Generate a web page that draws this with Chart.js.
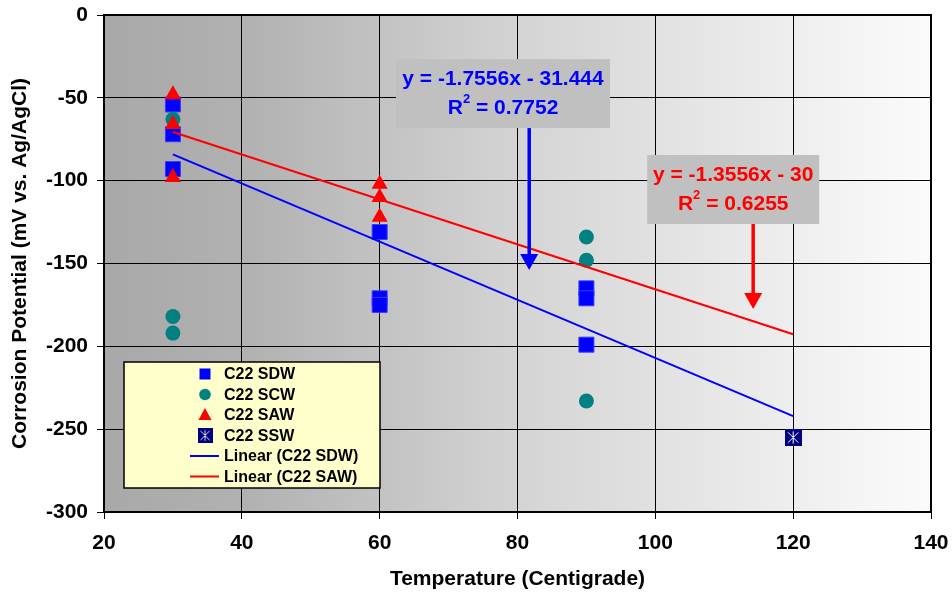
<!DOCTYPE html>
<html>
<head>
<meta charset="utf-8">
<script src="https://cdn.jsdelivr.net/npm/chart.js@4.4.1/dist/chart.umd.min.js"></script>
<style>
  html, body { margin: 0; padding: 0; background: #ffffff; }
  canvas { display: block; }
</style>
</head>
<body>
<canvas id="chart" width="952" height="594"></canvas>
<script>
// Corrosion potential of alloy C22 in four simulated waters
const sdwTemp = [30, 30, 30, 60, 60, 60, 90, 90, 90];
const sdwPot  = [-54, -72, -93, -131, -171, -175, -165, -171, -199];
const scwTemp = [30, 30, 30, 90, 90, 90];
const scwPot  = [-63, -182, -192, -134, -148, -233];
const sawTemp = [30, 30, 30, 60, 60, 60];
const sawPot  = [-48, -66, -98, -102, -110, -122];
const sswTemp = [120];
const sswPot  = [-255];

// Linear fits: [slope, intercept, R squared]
const sdwFit = [-1.7556, -31.444, 0.7752];
const sawFit = [-1.3556, -30, 0.6255];
const fitRange = [30, 120];

const xTicks = [20, 40, 60, 80, 100, 120, 140];
const yTicks = [0, -50, -100, -150, -200, -250, -300];

const FONT = '"Liberation Sans", Arial, Helvetica, sans-serif';

function pts(xs, ys) { return xs.map((x, i) => ({ x: x, y: ys[i] })); }
function fitLine(fit) { return fitRange.map(x => ({ x: x, y: fit[0] * x + fit[1] })); }
function eqText(fit) {
  const b = fit[1];
  return 'y = ' + fit[0] + 'x ' + (b < 0 ? '- ' : '+ ') + Math.abs(b);
}

// Marker for the SSW series: navy square with a white asterisk
function makeStarSquare(size) {
  const c = document.createElement('canvas');
  c.width = size; c.height = size;
  const g = c.getContext('2d');
  g.fillStyle = '#000080';
  g.fillRect(0, 0, size, size);
  g.strokeStyle = '#ffffff';
  g.lineWidth = 1;
  const m = size * 0.2, h = size / 2;
  g.beginPath();
  g.moveTo(m, m); g.lineTo(size - m, size - m);
  g.moveTo(size - m, m); g.lineTo(m, size - m);
  g.moveTo(h, m * 0.7); g.lineTo(h, size - m * 0.7);
  g.stroke();
  return c;
}
const starSquare = makeStarSquare(17);

// Plot-area gradient fill and border
const plotBackground = {
  id: 'plotBackground',
  beforeDraw(chart) {
    const { ctx, chartArea: a } = chart;
    const grad = ctx.createLinearGradient(a.left, 0, a.right, 0);
    grad.addColorStop(0, '#a8a8a8');
    grad.addColorStop(0.18, '#b2b2b2');
    grad.addColorStop(0.5, '#d4d4d4');
    grad.addColorStop(1, '#fbfbfb');
    ctx.save();
    ctx.fillStyle = grad;
    ctx.fillRect(a.left, a.top, a.right - a.left, a.bottom - a.top);
    ctx.restore();
  },
  beforeDatasetsDraw(chart) {
    const { ctx, chartArea: a } = chart;
    ctx.save();
    ctx.strokeStyle = '#000';
    ctx.lineWidth = 2;
    ctx.strokeRect(a.left, a.top, a.right - a.left, a.bottom - a.top);
    ctx.restore();
  }
};

function drawArrow(ctx, x, y0, y1, color) {
  const headH = 16, headW = 18;
  ctx.save();
  ctx.strokeStyle = color;
  ctx.fillStyle = color;
  ctx.lineWidth = 3.5;
  ctx.beginPath();
  ctx.moveTo(x, y0);
  ctx.lineTo(x, y1 - headH + 2);
  ctx.stroke();
  ctx.beginPath();
  ctx.moveTo(x - headW / 2, y1 - headH);
  ctx.lineTo(x + headW / 2, y1 - headH);
  ctx.lineTo(x, y1);
  ctx.closePath();
  ctx.fill();
  ctx.restore();
}

function drawFitLabel(ctx, cx, top, w, h, fit, color) {
  ctx.save();
  ctx.fillStyle = '#c0c0c0';
  ctx.fillRect(cx - w / 2, top, w, h);
  ctx.fillStyle = color;
  ctx.textBaseline = 'middle';
  ctx.textAlign = 'left';
  const big = 'bold 21px ' + FONT, small = 'bold 13px ' + FONT;
  ctx.font = big;
  const l1 = eqText(fit);
  const w1 = ctx.measureText(l1).width;
  ctx.fillText(l1, cx - w1 / 2, top + 20);
  const rTxt = 'R', rest = ' = ' + fit[2];
  const wr = ctx.measureText(rTxt).width, wrest = ctx.measureText(rest).width;
  ctx.font = small;
  const w2 = ctx.measureText('2').width;
  const total = wr + w2 + wrest;
  let x = cx - total / 2;
  const y2 = top + 49;
  ctx.font = big;
  ctx.fillText(rTxt, x, y2);
  ctx.font = small;
  ctx.fillText('2', x + wr, y2 - 9);
  ctx.font = big;
  ctx.fillText(rest, x + wr + w2, y2);
  ctx.restore();
}

// Fit equations with arrows pointing at the lines
const fitNotes = {
  id: 'fitNotes',
  afterDatasetsDraw(chart) {
    const { ctx } = chart;
    const xs = chart.scales.x, ys = chart.scales.y;
    // SDW note
    const bTop = ys.getPixelForValue(-26.6);
    drawFitLabel(ctx, xs.getPixelForValue(77.9), bTop, 214, 69, sdwFit, '#0000ff');
    drawArrow(ctx, xs.getPixelForValue(81.7), bTop + 69, ys.getPixelForValue(-153.9), '#0000ff');
    // SAW note
    const rTop = ys.getPixelForValue(-84.5);
    drawFitLabel(ctx, xs.getPixelForValue(111.3), rTop, 172, 69, sawFit, '#ff0000');
    drawArrow(ctx, xs.getPixelForValue(114.2), rTop + 69, ys.getPixelForValue(-177.4), '#ff0000');
  }
};

// Legend box inside the plot area
const boxLegend = {
  id: 'boxLegend',
  afterDatasetsDraw(chart) {
    const { ctx, chartArea: a } = chart;
    const left = a.left + 20, top = a.top + 347, w = 256, h = 126;
    ctx.save();
    ctx.fillStyle = '#ffffcc';
    ctx.fillRect(left, top, w, h);
    ctx.strokeStyle = '#000';
    ctx.lineWidth = 1.5;
    ctx.strokeRect(left, top, w, h);
    const mx = left + 81, tx = left + 100;
    const rows = [12, 32.5, 53, 73.5, 94, 114.5].map(d => top + d);
    const names = ['C22 SDW', 'C22 SCW', 'C22 SAW', 'C22 SSW', 'Linear (C22 SDW)', 'Linear (C22 SAW)'];
    // markers
    ctx.fillStyle = '#0000ff';
    ctx.fillRect(mx - 5.5, rows[0] - 5.5, 11, 11);
    ctx.fillStyle = '#008080';
    ctx.beginPath(); ctx.arc(mx, rows[1], 5.8, 0, Math.PI * 2); ctx.fill();
    ctx.fillStyle = '#ff0000';
    ctx.beginPath();
    ctx.moveTo(mx, rows[2] - 7); ctx.lineTo(mx + 6.5, rows[2] + 5); ctx.lineTo(mx - 6.5, rows[2] + 5);
    ctx.closePath(); ctx.fill();
    ctx.drawImage(starSquare, mx - 7.5, rows[3] - 7.5, 15, 15);
    ctx.lineWidth = 2;
    ctx.strokeStyle = '#0000ff';
    ctx.beginPath(); ctx.moveTo(mx - 15, rows[4]); ctx.lineTo(mx + 14, rows[4]); ctx.stroke();
    ctx.strokeStyle = '#ff0000';
    ctx.beginPath(); ctx.moveTo(mx - 15, rows[5]); ctx.lineTo(mx + 14, rows[5]); ctx.stroke();
    // labels
    ctx.fillStyle = '#000';
    ctx.font = 'bold 16px ' + FONT;
    ctx.textBaseline = 'middle';
    ctx.textAlign = 'left';
    names.forEach((n, i) => ctx.fillText(n, tx, rows[i] + 1));
    ctx.restore();
  }
};

const tickFont = { family: FONT, size: 21, weight: 'bold' };
const titleFont = { family: FONT, size: 21, weight: 'bold' };

new Chart(document.getElementById('chart'), {
  type: 'scatter',
  data: {
    datasets: [
      { label: 'Linear (C22 SDW)', type: 'line', data: fitLine(sdwFit), borderColor: '#0000ff',
        borderWidth: 2, pointRadius: 0, fill: false, order: 0 },
      { label: 'Linear (C22 SAW)', type: 'line', data: fitLine(sawFit), borderColor: '#ff0000',
        borderWidth: 2, pointRadius: 0, fill: false, order: 0 },
      { label: 'C22 SAW', data: pts(sawTemp, sawPot), pointStyle: 'triangle', pointRadius: 9.3,
        backgroundColor: '#ff0000', borderColor: '#ff0000', borderWidth: 0, order: 1 },
      { label: 'C22 SCW', data: pts(scwTemp, scwPot), pointStyle: 'circle', pointRadius: 7.5,
        backgroundColor: '#008080', borderColor: '#008080', borderWidth: 0, order: 2 },
      { label: 'C22 SDW', data: pts(sdwTemp, sdwPot), pointStyle: 'rect', pointRadius: 10.6,
        backgroundColor: '#0000ff', borderColor: '#3a3aff', borderWidth: 1, order: 3 },
      { label: 'C22 SSW', data: pts(sswTemp, sswPot), pointStyle: starSquare, pointRadius: 9,
        order: 4 }
    ]
  },
  options: {
    responsive: false,
    animation: false,
    devicePixelRatio: 1,
    layout: { padding: { top: 15, right: 21, left: 0, bottom: 0 } },
    plugins: { legend: { display: false }, tooltip: { enabled: false } },
    scales: {
      x: {
        type: 'linear', min: xTicks[0], max: xTicks[xTicks.length - 1],
        afterBuildTicks: s => { s.ticks = xTicks.map(v => ({ value: v })); },
        ticks: { font: tickFont, color: '#000', padding: 12, maxRotation: 0 },
        grid: { color: '#000', lineWidth: 1, tickLength: 7, tickColor: '#000' },
        border: { display: false },
        title: { display: true, text: 'Temperature (Centigrade)', font: titleFont, color: '#000',
                 padding: { top: 4, bottom: 2 } },
        afterFit: s => { s.height = 82; s.paddingLeft = 0; s.paddingRight = 0; }
      },
      y: {
        type: 'linear', min: -300, max: 0,
        afterBuildTicks: s => { s.ticks = yTicks.map(v => ({ value: v })); },
        ticks: { font: tickFont, color: '#000', padding: 9 },
        grid: { color: '#000', lineWidth: 1, tickLength: 7, tickColor: '#000' },
        border: { display: false },
        title: { display: true, text: 'Corrosion Potential (mV vs. Ag/AgCl)', font: titleFont,
                 color: '#000', padding: { top: 8, bottom: 4 } },
        afterFit: s => { s.width = 104; s.paddingTop = 0; s.paddingBottom = 0; }
      }
    }
  },
  plugins: [plotBackground, fitNotes, boxLegend]
});
</script>
</body>
</html>
